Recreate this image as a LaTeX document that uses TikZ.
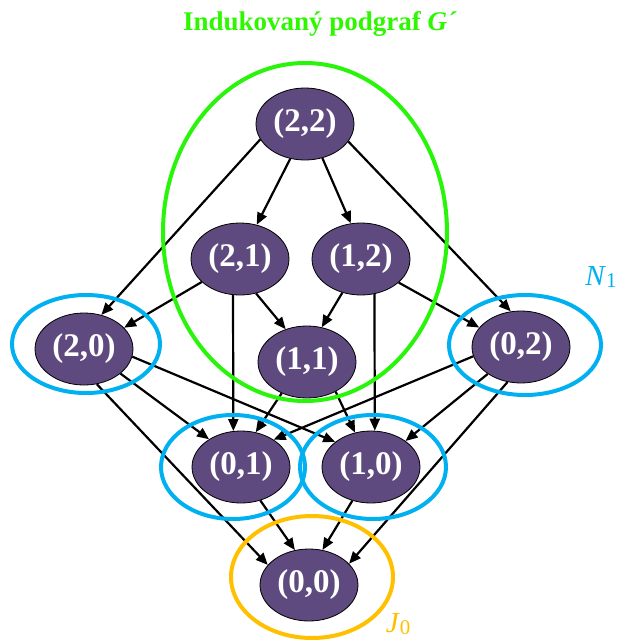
\documentclass[tikz,border=0pt]{standalone}
\usepackage{fontspec}
\setmainfont{Liberation Serif}
\usetikzlibrary{arrows.meta,shapes.geometric}
\definecolor{vertexfill}{RGB}{94,74,126}
\definecolor{ringblue}{RGB}{0,176,240}
\definecolor{ringgreen}{RGB}{40,245,10}
\definecolor{titlegreen}{RGB}{45,248,0}
\definecolor{ringgold}{RGB}{255,192,0}
\tikzset{
  vertex/.style={ellipse, draw=black, line width=0.8pt, fill=vertexfill,
    minimum width=98pt, minimum height=72pt, inner sep=0pt,
    text=white, font=\fontsize{33}{33}\selectfont\bfseries},
  arr/.style={line width=2.2pt, -{Triangle[length=12pt,width=10pt]}},
  ring/.style={line width=4pt},
}
\begin{document}
\begin{tikzpicture}[x=1pt,y=-1pt]
\useasboundingbox (0,0) rectangle (619,641);

% title
\node[text=titlegreen, font=\fontsize{27}{27}\selectfont\bfseries] (title) at (320,24)
  {Indukovaný podgraf \textit{G´}};

% vertices of the lattice
\node[vertex] (n22) at (305,124) {(2,2)};
\node[vertex] (n21) at (240,259) {(2,1)};
\node[vertex] (n12) at (361,259) {(1,2)};
\node[vertex] (n20) at (84,349)  {(2,0)};
\node[vertex] (n11) at (307,362) {(1,1)};
\node[vertex] (n02) at (521,347) {(0,2)};
\node[vertex] (n01) at (241,467) {(0,1)};
\node[vertex] (n10) at (371,467) {(1,0)};
\node[vertex] (n00) at (309,585) {(0,0)};

% edges
\draw[arr] (n22.247) -- (n21.64);
\draw[arr] (n22.297) -- (n12.106);
\draw[arr] (n22.199) -- (n20.63);
\draw[arr] (n22.338) -- (n02.106);
\draw[arr] (n21.211) -- (n20.28);
\draw[arr] (n21.295) -- (n11.123);
\draw[arr] (n21.259) -- (n01.102);
\draw[arr] (n12.241) -- (n11.67);
\draw[arr] (n12.328) -- (n02.155);
\draw[arr] (n12.291) -- (n10.84);
\draw[arr] (n20.351) -- (n10.145);
\draw[arr] (n20.326) -- (n01.139);
\draw[arr] (n20.290) -- (n00.154);
\draw[arr] (n11.231) -- (n01.67);
\draw[arr] (n11.314) -- (n10.115);
\draw[arr] (n02.191) -- (n01.40);
\draw[arr] (n02.219) -- (n10.37);
\draw[arr] (n02.249) -- (n00.28);
\draw[arr] (n01.300) -- (n00.112);
\draw[arr] (n10.241) -- (n00.69);

% rings
\draw[ring, ringgreen] (305,232) ellipse [x radius=142, y radius=169];
\draw[ring, ringblue] (86,344) ellipse [x radius=74, y radius=49];
\draw[ring, ringblue] (525,345) ellipse [x radius=76, y radius=50];
\draw[ring, ringblue] (233,467) ellipse [x radius=72, y radius=52];
\draw[ring, ringblue] (373,467) ellipse [x radius=73, y radius=52];
\draw[ring, ringgold] (312,577) ellipse [x radius=81, y radius=61];

% ring labels
\node[text=ringblue, font=\fontsize{29}{29}\selectfont, inner sep=0pt, anchor=base] (lblN) at (601,285)
  {\textit{N}\raisebox{-2pt}{\fontsize{21}{21}\selectfont 1}};
\node[text=ringgold, font=\fontsize{29}{29}\selectfont, inner sep=0pt, anchor=base] (lblJ) at (398,632)
  {\textit{J}\raisebox{-2pt}{\fontsize{21}{21}\selectfont 0}};
\end{tikzpicture}
\end{document}
